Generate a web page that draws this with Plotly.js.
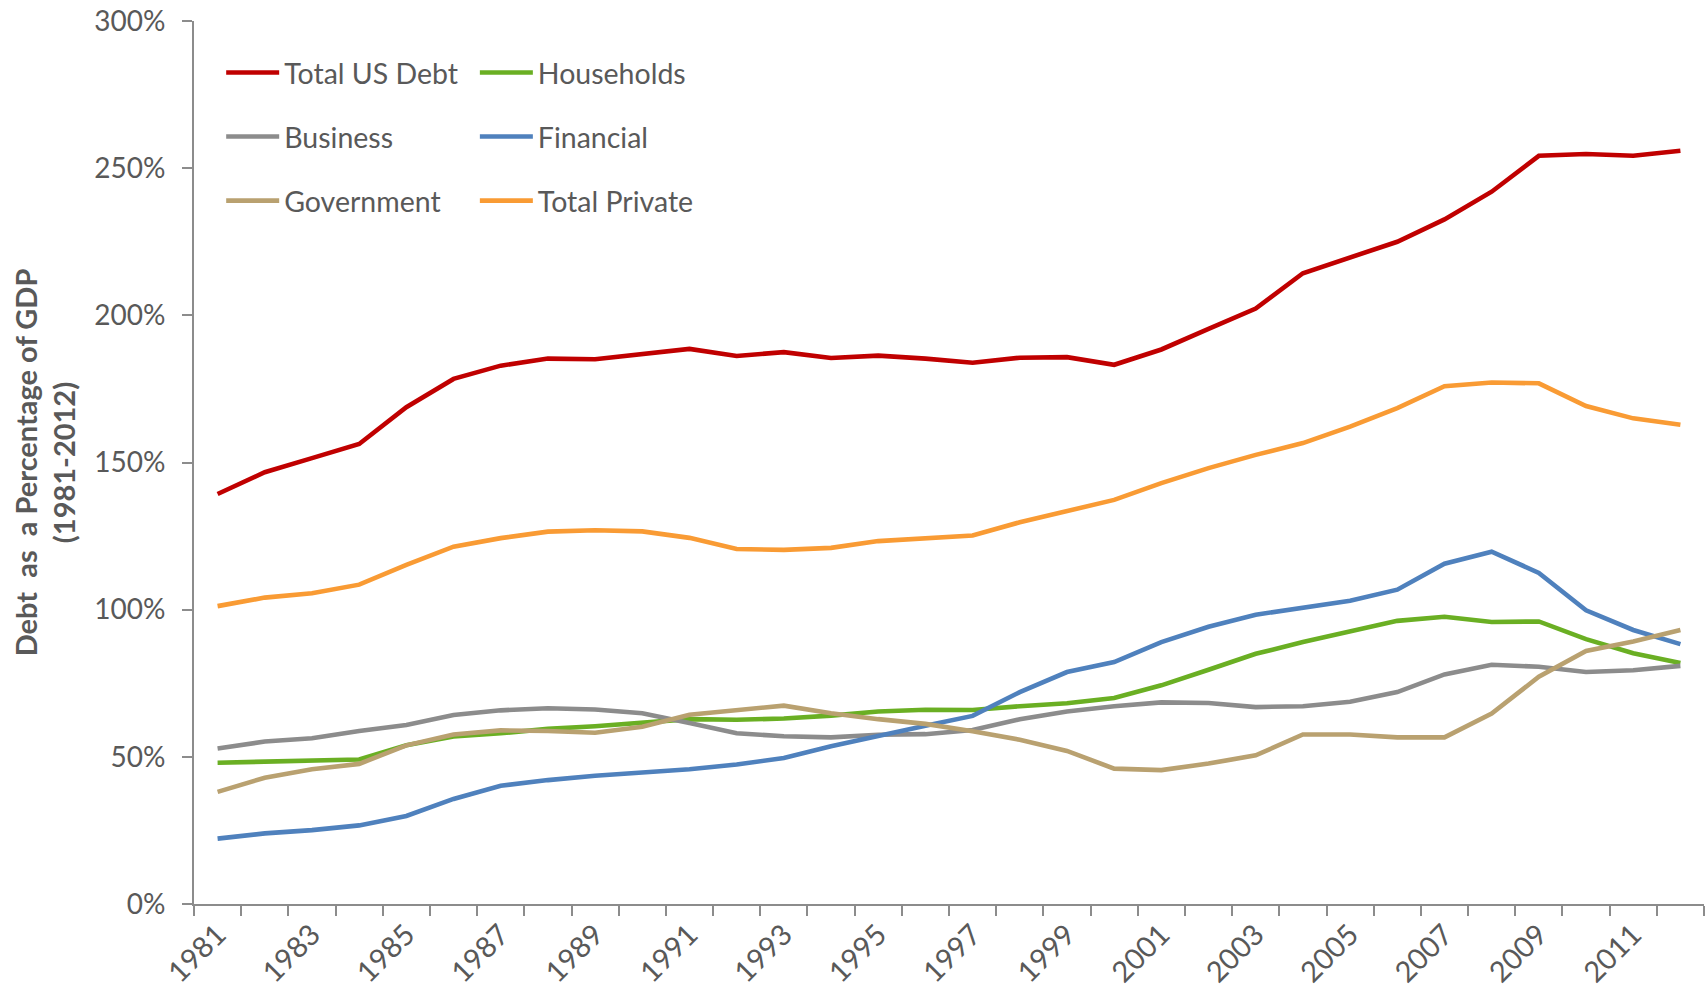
<!DOCTYPE html>
<html>
<head>
<meta charset="utf-8">
<script src="https://cdn.plot.ly/plotly-3.0.1.min.js"></script>
<style>
html,body{margin:0;padding:0;background:#fff;}
#chart{width:1706px;height:995px;}
</style>
</head>
<body>
<div id="chart"></div>
<script>
const years = [1981,1982,1983,1984,1985,1986,1987,1988,1989,1990,1991,1992,1993,1994,1995,1996,
               1997,1998,1999,2000,2001,2002,2003,2004,2005,2006,2007,2008,2009,2010,2011,2012];

const totalUSDebt = [139.3,146.7,151.5,156.3,168.8,178.4,182.9,185.3,185.1,186.9,188.6,186.2,187.5,185.5,186.3,185.3,
                     183.9,185.6,185.8,183.2,188.4,195.4,202.3,214.3,219.6,225.0,232.6,242.0,254.2,254.8,254.2,255.9];
const households   = [48.0,48.4,48.8,49.1,53.9,56.9,58.0,59.5,60.4,61.5,62.8,62.6,63.0,64.0,65.4,66.0,
                      65.9,67.2,68.2,70.0,74.3,79.6,85.0,89.0,92.8,96.2,97.6,95.8,96.0,90.0,85.2,81.9];
const business     = [52.8,55.2,56.3,58.8,60.8,64.2,65.8,66.5,66.1,64.8,61.5,58.0,57.0,56.6,57.5,57.7,
                      59.1,62.8,65.4,67.2,68.5,68.3,66.9,67.2,68.7,72.0,78.0,81.3,80.6,78.8,79.4,80.9];
const financial    = [22.2,24.0,25.1,26.7,29.9,35.7,40.2,42.1,43.6,44.7,45.8,47.4,49.6,53.6,57.3,60.6,
                      63.9,72.0,78.8,82.2,89.0,94.2,98.3,100.5,103.0,106.8,115.6,119.7,112.5,99.8,93.1,88.3];
const government   = [38.1,42.9,45.8,47.6,53.9,57.6,59.0,58.8,58.2,60.2,64.3,65.8,67.4,64.8,62.8,61.2,
                      58.7,55.8,52.0,46.0,45.5,47.7,50.5,57.6,57.6,56.6,56.6,64.7,77.2,86.0,89.2,93.1];
const totalPrivate = [101.2,104.1,105.6,108.5,115.2,121.4,124.3,126.5,127.0,126.6,124.4,120.6,120.3,121.0,123.3,124.1,
                      125.2,129.7,133.6,137.3,143.0,148.1,152.6,156.6,162.2,168.5,175.9,177.2,176.9,169.2,165.0,162.8];

const yTicks = [0,50,100,150,200,250,300];
const yTickText = ['0%','50%','100%','150%','200%','250%','300%'];
const xLabelYears = [1981,1983,1985,1987,1989,1991,1993,1995,1997,1999,2001,2003,2005,2007,2009,2011];

const FONT = 'Lato, "Open Sans", sans-serif';
const TXT = '#595959';
const AXC = '#8c8c8c';

function tr(name, y, color, legend){
  return {
    type:'scatter', mode:'lines', name:name, x:years, y:y,
    line:{color:color, width:4.6, shape:'linear'},
    legend:legend, legendgroup:name, hoverinfo:'x+y+name'
  };
}

const data = [
  tr('Total US Debt', totalUSDebt, '#c00000', 'legend'),
  tr('Households', households, '#6aaf23', 'legend2'),
  tr('Business', business, '#8c8c8c', 'legend'),
  tr('Financial', financial, '#4f81bd', 'legend2'),
  tr('Government', government, '#b9a170', 'legend'),
  tr('Total Private', totalPrivate, '#f99b34', 'legend2')
];

const legendBase = {
  orientation:'v', yanchor:'top', xanchor:'left', y:0.97,
  bgcolor:'rgba(0,0,0,0)', borderwidth:0,
  font:{family:FONT, size:28.5, color:TXT},
  tracegroupgap:24, itemwidth:53, traceorder:'grouped'
};

const layout = {
  width:1706, height:995,
  margin:{l:194, r:2, t:21, b:91, pad:0},
  paper_bgcolor:'#ffffff', plot_bgcolor:'#ffffff',
  font:{family:FONT, color:TXT},
  showlegend:true,
  legend:Object.assign({}, legendBase, {x:0.018}),
  legend2:Object.assign({}, legendBase, {x:0.186}),
  xaxis:{
    type:'linear', range:[1980.5, 2012.5],
    tickmode:'array', tickvals:xLabelYears, ticktext:xLabelYears.map(String),
    ticks:'', tickangle:-45,
    tickfont:{family:FONT, size:29, color:TXT},
    showgrid:false, zeroline:false,
    showline:true, linecolor:AXC, linewidth:2,
    minor:{tick0:1980.5, dtick:1, ticks:'outside', ticklen:10, tickcolor:AXC, tickwidth:2, showgrid:false}
  },
  yaxis:{
    range:[0,300], tickmode:'array', tickvals:yTicks, ticktext:yTickText,
    ticks:'outside', ticklen:10, tickcolor:AXC, tickwidth:2,
    tickfont:{family:FONT, size:28, color:TXT},
    showgrid:false, zeroline:false,
    showline:true, linecolor:AXC, linewidth:2,
    ticklabelstandoff:11,
    title:{text:'<b>Debt  as  a Percentage of GDP<br>(1981-2012)</b>', font:{family:FONT, size:29, color:TXT}, standoff:10}
  }
};

Plotly.newPlot('chart', data, layout, {displayModeBar:false, staticPlot:true});
</script>
</body>
</html>
